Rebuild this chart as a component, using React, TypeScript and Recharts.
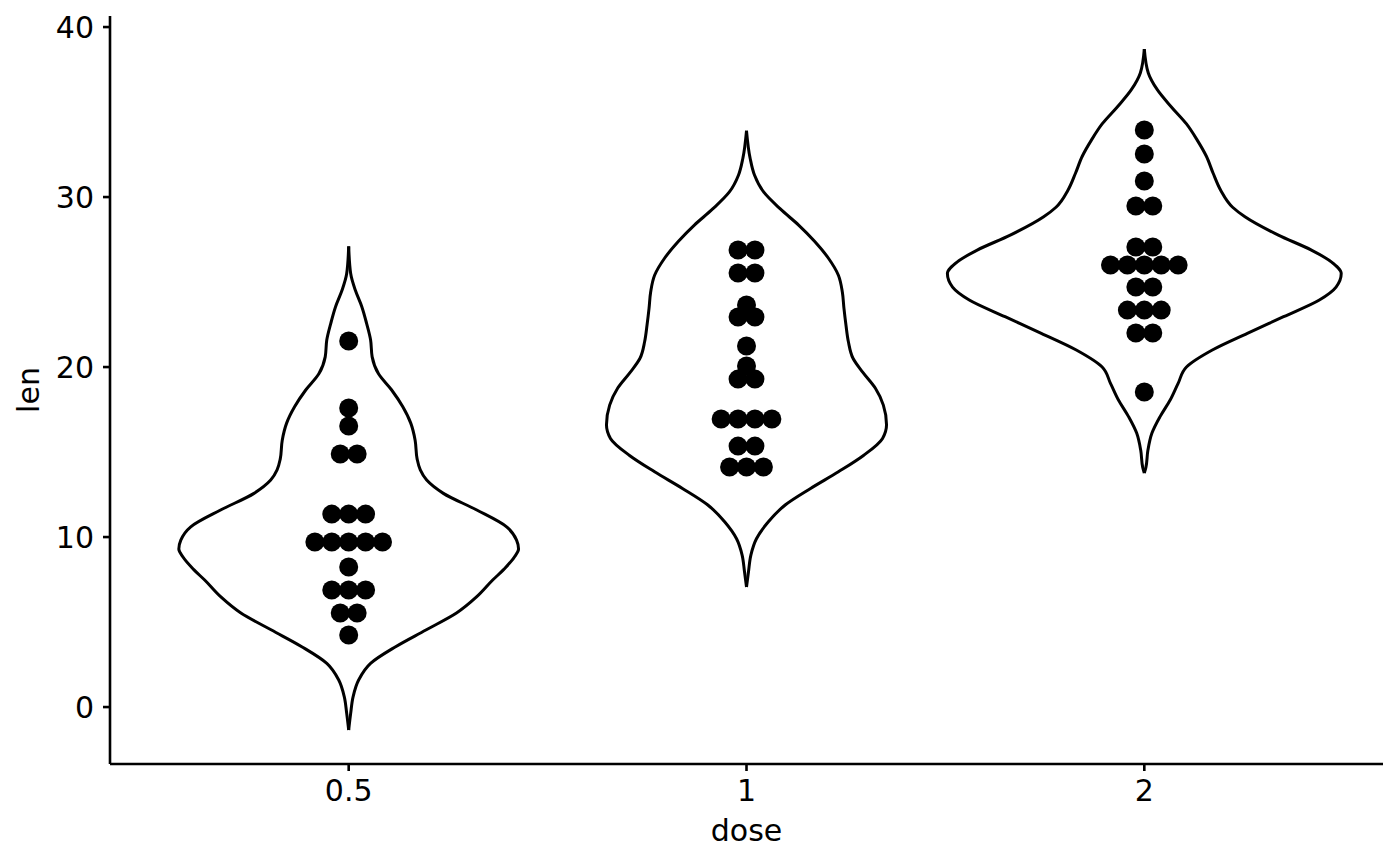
import React from 'react';
import { ScatterChart, Scatter, XAxis, YAxis, Label } from 'recharts';

// categories and axis ticks
const doseLabels = ['0.5', '1', '2'];
const dosePositions = [1, 2, 3];
const yTicks = [0, 10, 20, 30, 40];

// violin outlines: [len, half width in x-axis units], top tip to bottom tip
const violin05: [number, number][] = [
  [27.1, 0], [25.5, 0.005], [24.5, 0.017], [23.55, 0.033], [22.57, 0.045], [21.6, 0.055],
  [20.6, 0.059], [19.6, 0.075], [18.65, 0.108], [17.66, 0.136], [16.7, 0.156], [15.7, 0.167],
  [14.6, 0.172], [13.95, 0.18], [13.35, 0.196], [12.57, 0.238], [11.59, 0.322], [10.6, 0.397],
  [9.82, 0.422], [9.3, 0.427], [8.84, 0.417], [8.1, 0.39], [7.47, 0.362], [6.49, 0.322], [5.53, 0.271],
  [4.53, 0.194], [3.55, 0.118], [2.57, 0.055], [1.59, 0.025], [0.6, 0.011], [-0.37, 0.005], [-1.35, 0],
];
const violin1: [number, number][] = [
  [33.9, 0], [32.3, 0.009], [31.3, 0.02], [30.3, 0.043], [29.3, 0.085], [28.35, 0.131],
  [27.4, 0.171], [26.4, 0.206], [25.4, 0.231], [24.4, 0.241], [23.45, 0.245], [22.47, 0.25],
  [21.5, 0.256], [20.5, 0.268], [19.7, 0.292], [18.75, 0.324], [17.76, 0.344], [16.6, 0.352],
  [15.8, 0.342], [14.8, 0.294], [13.84, 0.231], [12.86, 0.161], [11.9, 0.098], [10.9, 0.055],
  [9.9, 0.025], [8.94, 0.011], [7.96, 0.005], [7.06, 0],
];
const violin2: [number, number][] = [
  [38.7, 0], [37.3, 0.01], [36.3, 0.033], [35.3, 0.068], [34.3, 0.106], [33.35, 0.133],
  [32.4, 0.156], [31.4, 0.173], [30.4, 0.192], [29.4, 0.222], [28.84, 0.253], [27.76, 0.337],
  [26.88, 0.42], [26.19, 0.47], [25.5, 0.495], [24.7, 0.482], [23.94, 0.44], [22.96, 0.35],
  [21.98, 0.259], [21.0, 0.171], [20.0, 0.106], [19.04, 0.085], [18.06, 0.065], [17.1, 0.04],
  [16.1, 0.019], [15.1, 0.009], [14.1, 0.004], [13.76, 0],
];

// dot-plot bins: [len, number of dots]
const dots05: [number, number][] = [
  [21.53, 1], [17.59, 1], [16.53, 1], [14.88, 2], [11.35, 3], [9.71, 5], [8.24, 1], [6.88, 3], [5.53, 2], [4.24, 1],
];
const dots1: [number, number][] = [
  [26.88, 2], [25.53, 2], [23.65, 1], [22.94, 2], [21.24, 1], [20.06, 1], [19.29, 2], [16.94, 4], [15.35, 2], [14.12, 3],
];
const dots2: [number, number][] = [
  [33.94, 1], [32.53, 1], [30.94, 1], [29.47, 2], [27.06, 2], [26.0, 5], [24.71, 2], [23.35, 3], [22.0, 2], [18.53, 1],
];

const violins = [violin05, violin1, violin2];
const dotSets = [dots05, dots1, dots2];

const DOT_STEP = 0.0425; // stacking step in x-axis units
const FONT = 'DejaVu Sans, sans-serif';
const LINE_W = 3;
const AXIS_W = 2.6;

function sideData(profile: [number, number][], pos: number, sign: number) {
  return profile.map(([len, hw]) => ({ x: pos + sign * hw, y: len }));
}

function dotData(bins: [number, number][], pos: number) {
  const out: { x: number; y: number }[] = [];
  bins.forEach(([len, n]) => {
    for (let i = 0; i < n; i++) {
      out.push({ x: pos + (i - (n - 1) / 2) * DOT_STEP, y: len });
    }
  });
  return out;
}

const NoShape = () => <g />;
const DotShape = (props: any) => <circle cx={props.cx} cy={props.cy} r={9.5} fill="#000" />;

const YTitle = (props: any) => {
  const vb = props.viewBox || { x: 0, y: 16, width: 110, height: 748 };
  const x = 39;
  const y = vb.y + vb.height / 2;
  return (
    <text x={x} y={y} transform={`rotate(-90, ${x}, ${y})`} textAnchor="middle" fill="#000" fontSize={30} fontFamily={FONT}>
      len
    </text>
  );
};

const XTitle = (props: any) => {
  const vb = props.viewBox || { x: 110, y: 764, width: 1273, height: 102 };
  return (
    <text x={vb.x + vb.width / 2} y={841} textAnchor="middle" fill="#000" fontSize={30} fontFamily={FONT}>
      dose
    </text>
  );
};

export default function App() {
  return (
    <div style={{ position: 'absolute', left: 0, top: 0, width: 1400, height: 866, background: '#fff', fontFamily: FONT }}>
      <ScatterChart width={1400} height={866} margin={{ top: 16, right: 17, bottom: 0, left: 0 }}>
        <XAxis
          type="number"
          dataKey="x"
          domain={[0.4, 3.6]}
          allowDataOverflow
          ticks={dosePositions}
          tickFormatter={(v: number) => doseLabels[dosePositions.indexOf(v)] ?? ''}
          height={102}
          tickSize={7}
          tickMargin={9}
          stroke="#000"
          strokeWidth={AXIS_W}
          axisLine={{ stroke: '#000', strokeWidth: AXIS_W }}
          tickLine={{ stroke: '#000', strokeWidth: AXIS_W }}
          tick={{ fill: '#000', fontSize: 30, fontFamily: FONT, strokeWidth: 0 }}
          interval={0}
        >
          <Label content={<XTitle />} />
        </XAxis>
        <YAxis
          type="number"
          dataKey="y"
          domain={[-3.35, 40.65]}
          allowDataOverflow
          ticks={yTicks}
          width={110}
          tickSize={7}
          tickMargin={9}
          stroke="#000"
          strokeWidth={AXIS_W}
          axisLine={{ stroke: '#000', strokeWidth: AXIS_W }}
          tickLine={{ stroke: '#000', strokeWidth: AXIS_W }}
          tick={{ fill: '#000', fontSize: 30, fontFamily: FONT, strokeWidth: 0 }}
          interval={0}
        >
          <Label content={<YTitle />} />
        </YAxis>
        {violins.map((profile, i) => (
          <Scatter
            key={`vl${i}`}
            data={sideData(profile, dosePositions[i], -1)}
            shape={NoShape}
            stroke="#000"
            strokeWidth={LINE_W}
            line={{ stroke: '#000', strokeWidth: LINE_W }}
            lineJointType="monotoneY"
            fill="#000"
            isAnimationActive={false}
          />
        ))}
        {violins.map((profile, i) => (
          <Scatter
            key={`vr${i}`}
            data={sideData(profile, dosePositions[i], 1)}
            shape={NoShape}
            stroke="#000"
            strokeWidth={LINE_W}
            line={{ stroke: '#000', strokeWidth: LINE_W }}
            lineJointType="monotoneY"
            fill="#000"
            isAnimationActive={false}
          />
        ))}
        {dotSets.map((bins, i) => (
          <Scatter
            key={`d${i}`}
            data={dotData(bins, dosePositions[i])}
            shape={DotShape}
            fill="#000"
            isAnimationActive={false}
          />
        ))}
      </ScatterChart>
    </div>
  );
}
